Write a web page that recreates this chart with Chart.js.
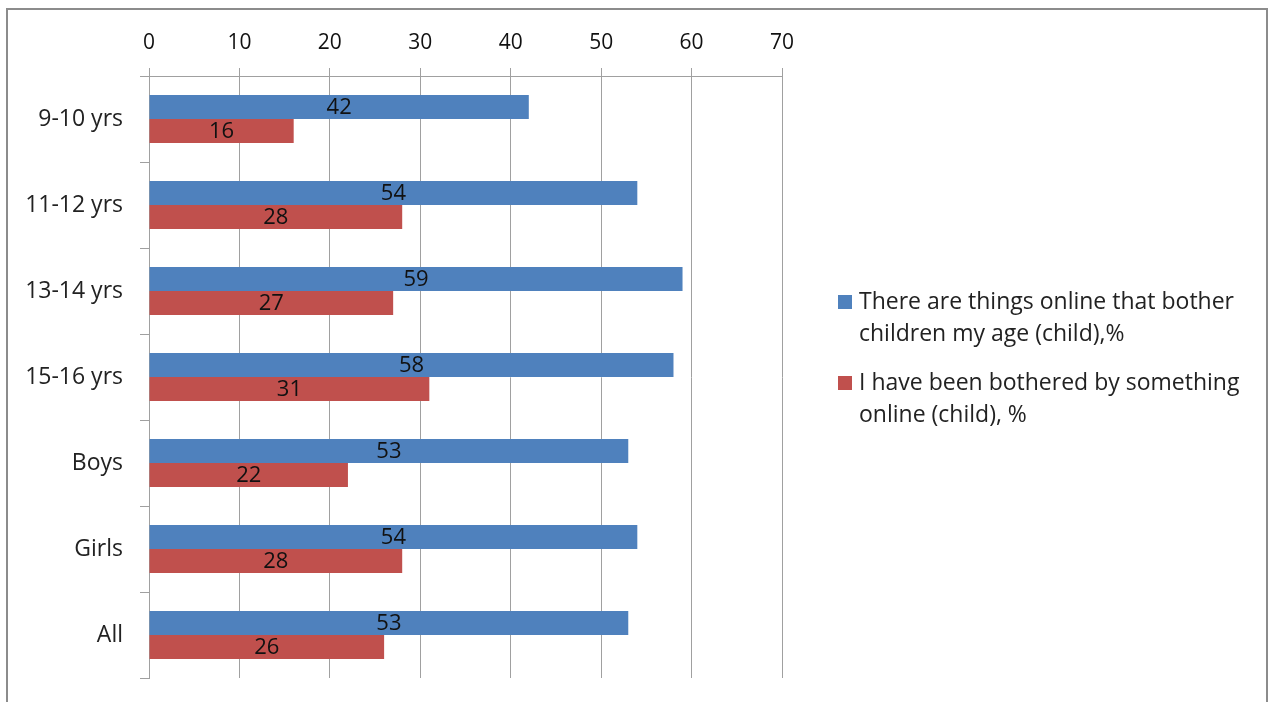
<html>
  <head>
    <script src="https://cdn.jsdelivr.net/npm/chart.js@4.4.1/dist/chart.umd.min.js"></script>
    <style>
      body {
        margin: 0;
        background: #fff;
        overflow: hidden;
      }
      #wrap {
        position: relative;
        width: 1273px;
        height: 702px;
      }
    </style>
  </head>
  <body>
    <div id="wrap"><canvas id="chart" width="1273" height="702"></canvas></div>
    <script>
      const categories = ["9-10 yrs", "11-12 yrs", "13-14 yrs", "15-16 yrs", "Boys", "Girls", "All"];
      const series_names = [
        ["There are things online that bother", "children my age (child),%"],
        ["I have been bothered by something", "online (child), %"],
      ];
      const things_online = [42, 54, 59, 58, 53, 54, 53];
      const bothered = [16, 28, 27, 31, 22, 28, 26];
      const x_ticks = [0, 10, 20, 30, 40, 50, 60, 70];

      const font_family = "'Open Sans', sans-serif";
      const colors = ["#4F81BD", "#C0504D"];

      const pad = { left: 10, top: 10, right: 491, bottom: 24 };

      const frame_plugin = {
        id: "frame",
        beforeDraw: (chart) => {
          const ctx = chart.ctx;
          ctx.save();
          ctx.strokeStyle = "#8c8c8c";
          ctx.lineWidth = 2;
          ctx.strokeRect(7, 9, 1260, 720);
          ctx.restore();
        },
      };

      const bar_labels = {
        id: "bar_labels",
        afterDatasetsDraw: (chart) => {
          const ctx = chart.ctx;
          ctx.save();
          ctx.font = "22px " + font_family;
          ctx.fillStyle = "#111";
          ctx.textAlign = "center";
          ctx.textBaseline = "middle";
          chart.data.datasets.forEach((ds, i) => {
            chart.getDatasetMeta(i).data.forEach((bar, j) => {
              ctx.fillText(String(ds.data[j]), (bar.base + bar.x) / 2, bar.y + 1);
            });
          });
          ctx.restore();
        },
      };

      // legend with wrapped text, like the original
      const side_legend = {
        id: "side_legend",
        afterDraw: (chart) => {
          const ctx = chart.ctx;
          ctx.save();
          ctx.font = "23px " + font_family;
          ctx.textBaseline = "middle";
          const tops = [302, 383];
          series_names.forEach((lines, i) => {
            ctx.fillStyle = colors[i];
            ctx.fillRect(838, tops[i] - 7, 14, 14);
            ctx.fillStyle = "#222";
            lines.forEach((line, k) => {
              ctx.fillText(line, 859, tops[i] + k * 32);
            });
          });
          ctx.restore();
        },
      };

      new Chart(document.getElementById("chart"), {
        type: "bar",
        data: {
          labels: categories,
          datasets: [
            {
              label: series_names[0].join(" "),
              data: things_online,
              backgroundColor: colors[0],
              barPercentage: 1,
              categoryPercentage: 0.56,
            },
            {
              label: series_names[1].join(" "),
              data: bothered,
              backgroundColor: colors[1],
              barPercentage: 1,
              categoryPercentage: 0.56,
            },
          ],
        },
        options: {
          indexAxis: "y",
          responsive: false,
          animation: false,
          layout: { padding: pad },
          scales: {
            x: {
              position: "top",
              min: 0,
              max: 70,
              afterFit: (s) => {
                s.height = 76 - pad.top;
                s.paddingLeft = 0;
                s.paddingRight = 0;
              },
              afterBuildTicks: (s) => {
                s.ticks = x_ticks.map((v) => ({ value: v }));
              },
              ticks: {
                color: "#111",
                padding: 12,
                font: { family: font_family, size: 21 },
              },
              grid: {
                color: "#a0a0a0",
                lineWidth: 1,
                tickLength: 8,
              },
              border: { color: "#a0a0a0" },
            },
            y: {
              afterFit: (s) => {
                s.width = 149 - pad.left;
                s.paddingTop = 0;
                s.paddingBottom = 0;
              },
              ticks: {
                color: "#222",
                padding: 17,
                font: { family: font_family, size: 23 },
              },
              grid: {
                offset: true,
                drawOnChartArea: false,
                color: "#a0a0a0",
                tickLength: 9,
              },
              border: { color: "#a0a0a0" },
            },
          },
          plugins: {
            legend: { display: false },
            tooltip: { enabled: false },
          },
        },
        plugins: [frame_plugin, bar_labels, side_legend],
      });
    </script>
  </body>
</html>
